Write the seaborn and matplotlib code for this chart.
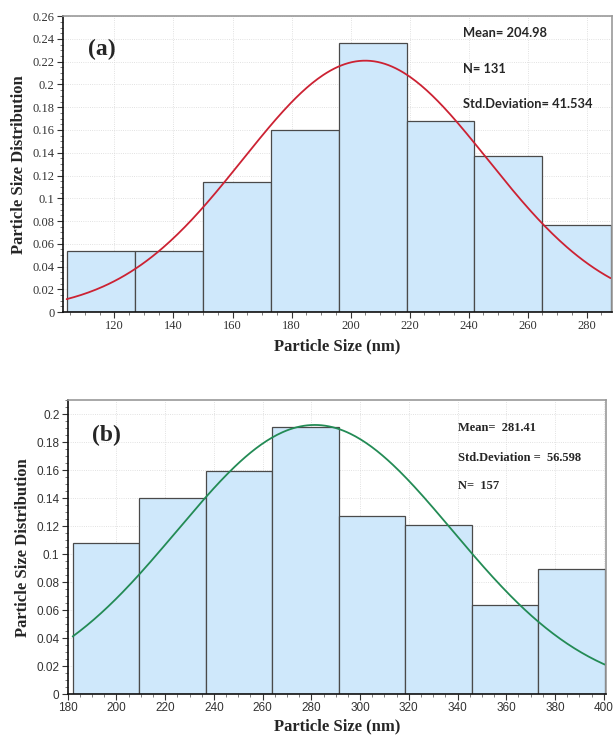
import numpy as np
import pandas as pd
import matplotlib
matplotlib.use("Agg")
import matplotlib.pyplot as plt
from matplotlib.ticker import MultipleLocator, AutoMinorLocator, FuncFormatter
import seaborn as sns

sns.set_style("white")

# panel (a)
edges_a = [103.8, 126.8, 149.9, 173.0, 196.0, 219.0, 242.0, 265.0, 288.1]
counts_a = [7, 7, 15, 21, 31, 22, 18, 10]
n_a, mean_a, sd_a = 131, 204.98, 41.534

# panel (b)
edges_b = [182.0, 209.3, 236.6, 263.9, 291.2, 318.5, 345.8, 373.1, 400.4]
counts_b = [17, 22, 25, 30, 20, 19, 10, 14]
n_b, mean_b, sd_b = 157, 281.41, 56.598

bar_face = "#cfe8fb"
bar_edge = "#4a4a4a"


def fmt(v, pos):
    s = f"{v:.2f}".rstrip("0").rstrip(".")
    return s


def panel(ax, edges, counts, n, mean, sd, color, tickfont, tsize, xlim, ylim, xpad):
    centers = [(a + b) / 2 for a, b in zip(edges[:-1], edges[1:])]
    df = pd.DataFrame({"size": centers, "p": [c / n for c in counts]})
    sns.histplot(data=df, x="size", weights="p", bins=list(edges),
                 color=bar_face, edgecolor=bar_edge, linewidth=0.9, alpha=1, ax=ax)
    # fitted normal curve scaled to bin width
    bw = edges[1] - edges[0]
    xs = np.linspace(edges[0], edges[-1], 300)
    ys = bw * np.exp(-0.5 * ((xs - mean) / sd) ** 2) / (sd * np.sqrt(2 * np.pi))
    sns.lineplot(x=xs, y=ys, color=color, linewidth=1.3, ax=ax)
    ax.set_xlim(*xlim)
    ax.set_ylim(*ylim)
    ax.xaxis.set_major_locator(MultipleLocator(20))
    ax.yaxis.set_major_locator(MultipleLocator(0.02))
    ax.xaxis.set_minor_locator(AutoMinorLocator(4))
    ax.yaxis.set_minor_locator(AutoMinorLocator(4))
    ax.yaxis.set_major_formatter(FuncFormatter(fmt))
    ax.tick_params(which="major", direction="out", length=4, width=0.8, labelsize=tsize,
                   left=True, bottom=True, colors="#333333", pad=2)
    ax.tick_params(which="minor", direction="out", length=2, width=0.6,
                   left=True, bottom=True, colors="#666666")
    for lab in ax.get_xticklabels() + ax.get_yticklabels():
        lab.set_fontfamily(tickfont)
        lab.set_color("#333333")
    ax.grid(True, which="major", linestyle=":", linewidth=0.6, color="#d8d8d8")
    ax.set_axisbelow(True)
    for s in ["left", "bottom"]:
        ax.spines[s].set_color("#111111")
        ax.spines[s].set_linewidth(1.2)
    for s in ["top", "right"]:
        ax.spines[s].set_color("#999999")
        ax.spines[s].set_linewidth(1.2)
    ax.set_xlabel("Particle Size (nm)", fontsize=12, fontweight="bold",
                  family="Liberation Serif", labelpad=xpad)
    ax.set_ylabel("Particle Size Distribution", fontsize=12, fontweight="bold",
                  family="Liberation Serif", labelpad=4)


fig = plt.figure(figsize=(6.16, 7.36), dpi=100)
ax1 = fig.add_axes([0.102, 0.576, 0.891, 0.402])
ax2 = fig.add_axes([0.110, 0.057, 0.874, 0.399])

panel(ax1, edges_a, counts_a, n_a, mean_a, sd_a, "#cc2233", "Liberation Serif", 9,
      (102.5, 288.5), (0, 0.26), 4)
panel(ax2, edges_b, counts_b, n_b, mean_b, sd_b, "#238b55", "Liberation Sans", 8.5,
      (180, 401), (0, 0.21), 3)

ax1.text(0.045, 0.87, "(a)", transform=ax1.transAxes, fontsize=17, fontweight="bold",
         family="Liberation Serif")
ax2.text(0.045, 0.86, "(b)", transform=ax2.transAxes, fontsize=17, fontweight="bold",
         family="Liberation Serif")

for txt, y in [("Mean= 204.98", 0.943), ("N= 131", 0.822), ("Std.Deviation= 41.534", 0.703)]:
    ax1.text(0.73, y, txt, transform=ax1.transAxes, fontsize=9.3, fontweight="bold",
             family="Lato", va="center")
for txt, y in [("Mean=  281.41", 0.907), ("Std.Deviation =  56.598", 0.805), ("N=  157", 0.71)]:
    ax2.text(0.725, y, txt, transform=ax2.transAxes, fontsize=9, fontweight="bold",
             family="Liberation Serif", va="center")

fig.savefig("out.png", dpi=100)
